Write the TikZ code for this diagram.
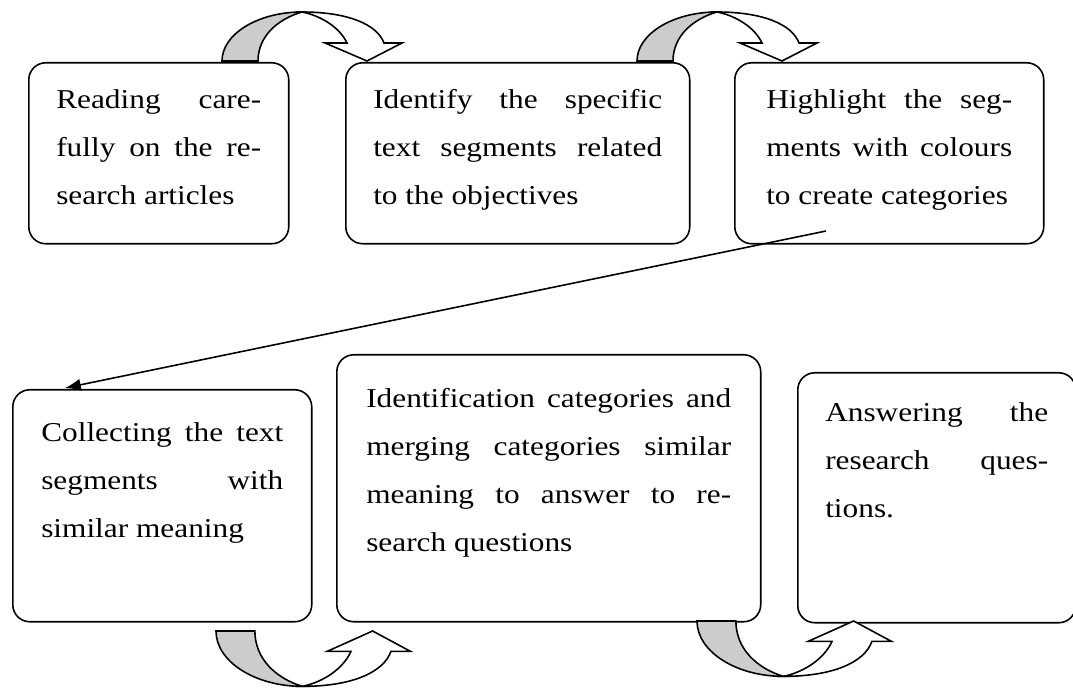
\documentclass[tikz,border=0pt]{standalone}
\usepackage{fontspec}
\setmainfont[FakeStretch=1.15]{Liberation Serif}
\usetikzlibrary{arrows.meta}
\tolerance=10000
\hbadness=10000

\tikzstyle{stage} = [draw,line width=0.9pt,rounded corners=0.34cm,anchor=north west,align=justify,inner sep=0pt,font=\fontsize{15.5}{27.3}\selectfont]
\tikzset{
  pics/bentarrow/.style={code={
    \filldraw[fill=gray!40,line width=0.9pt] (0,0) .. controls (0,-27) and (36,-49) .. (80,-49) .. controls (56,-42) and (36,-25) .. (36,0) -- cycle;
    \filldraw[fill=white,line width=0.9pt] (80,-49) .. controls (125,-49) and (155,-37) .. (162,-18) -- (180,-18) -- (145,0) -- (103,-18) -- (125,-18) .. controls (118,-33) and (100,-45) .. (80,-49) -- cycle;
  }}
}

\begin{document}
\begin{tikzpicture}[x=0.02cm,y=-0.02cm]
		\useasboundingbox (0,0) rectangle (1073,689);
		% top row
		\node[stage,minimum width=5.2cm,text width=4.1cm,text height=0.91cm,text depth=2.71cm] (s1) at (28,62) {Reading care-\linebreak fully on the re-\linebreak search articles};
		\node[stage,minimum width=6.88cm,text width=5.78cm,text height=0.91cm,text depth=2.71cm] (s2) at (345,62) {Identify the specific\linebreak text segments related\linebreak to the objectives};
		\node[stage,minimum width=6.18cm,text width=4.92cm,text height=0.91cm,text depth=2.71cm] (s3) at (734,62) {Highlight the seg-\linebreak ments with colours\linebreak to create categories};
		% bottom row
		\node[stage,minimum width=5.98cm,text width=4.84cm,text height=1.04cm,text depth=3.6cm] (s4) at (12,389) {Collecting the text\linebreak segments with\linebreak similar meaning};
		\node[stage,minimum width=8.48cm,text width=7.3cm,text height=1.06cm,text depth=4.28cm] (s5) at (336,354) {Identification categories and\linebreak merging categories similar\linebreak meaning to answer to re-\linebreak search questions};
		\node[stage,minimum width=5.56cm,text width=4.46cm,text height=0.98cm,text depth=4.02cm] (s6) at (797,372) {Answering the\linebreak research ques-\linebreak tions.};
		% long arrow
		\coordinate (hl) at (826,231);
		\coordinate (cl) at (65,388);
		\draw[-{Latex[length=9pt,width=7pt]},line width=0.9pt] (hl) -- (cl);
		% bent arrows
		\pic at (222,61) {bentarrow};
		\pic at (637,61) {bentarrow};
		\pic[xscale=1.08,yscale=-1.13] at (216,631) {bentarrow};
		\pic[xscale=1.08,yscale=-1.13] at (697,621) {bentarrow};
\end{tikzpicture}
\end{document}
